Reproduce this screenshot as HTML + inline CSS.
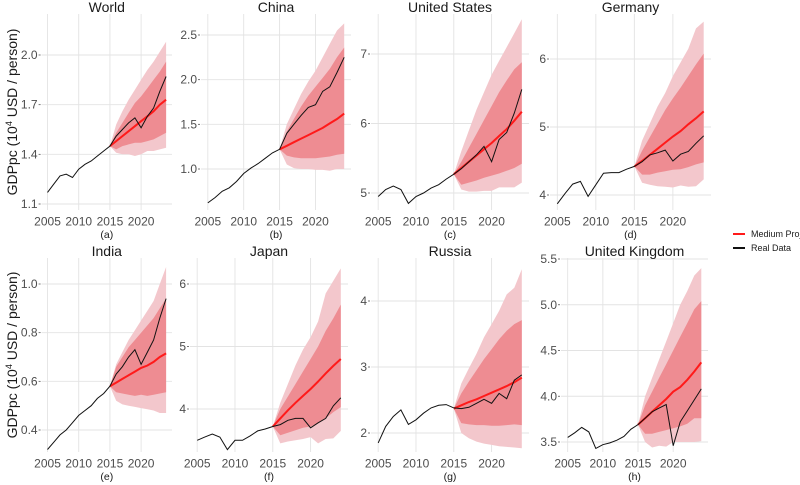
<!DOCTYPE html>
<html><head><meta charset="utf-8">
<style>
html,body{margin:0;padding:0;background:#fff;}
svg{display:block;font-family:"Liberation Sans",sans-serif;}
</style></head>
<body>
<svg id="chart" width="800" height="485" viewBox="0 0 800 485" xmlns="http://www.w3.org/2000/svg"></svg>
<script>
const years = [2005,2006,2007,2008,2009,2010,2011,2012,2013,2014,2015,2016,2017,2018,2019,2020,2021,2022,2023,2024];
const projYears = [2015,2016,2017,2018,2019,2020,2021,2022,2023,2024];
const xTicks = [2005,2010,2015,2020];
const panelNames = ["World","China","United States","Germany","India","Japan","Russia","United Kingdom"];
const panelLetters = ["(a)","(b)","(c)","(d)","(e)","(f)","(g)","(h)"];
const yTickLabels = [
  ["1.1","1.4","1.7","2.0"],
  ["1.0","1.5","2.0","2.5"],
  ["5","6","7"],
  ["4","5","6"],
  ["0.4","0.6","0.8","1.0"],
  ["4","5","6"],
  ["2","3","4"],
  ["3.5","4.0","4.5","5.0","5.5"]
];
const realWorld = [1.17,1.22,1.27,1.28,1.26,1.31,1.34,1.36,1.39,1.42,1.45,1.51,1.55,1.59,1.62,1.56,1.63,1.68,1.78,1.87];
const realChina = [0.62,0.68,0.75,0.79,0.86,0.95,1.01,1.06,1.12,1.18,1.22,1.40,1.50,1.60,1.69,1.72,1.87,1.92,2.08,2.25];
const realUS = [4.95,5.05,5.10,5.05,4.85,4.95,5.00,5.07,5.12,5.20,5.27,5.35,5.45,5.55,5.67,5.45,5.77,5.87,6.15,6.49];
const realGermany = [3.87,4.02,4.16,4.20,3.98,4.15,4.32,4.33,4.33,4.38,4.42,4.49,4.59,4.62,4.66,4.50,4.60,4.64,4.76,4.87];
const realIndia = [0.32,0.35,0.38,0.40,0.43,0.46,0.48,0.50,0.53,0.55,0.58,0.63,0.66,0.70,0.73,0.67,0.72,0.77,0.86,0.94];
const realJapan = [3.50,3.55,3.60,3.55,3.35,3.50,3.50,3.57,3.65,3.68,3.72,3.75,3.82,3.85,3.85,3.70,3.78,3.85,4.05,4.18];
const realRussia = [1.85,2.10,2.25,2.35,2.13,2.20,2.30,2.38,2.42,2.43,2.38,2.37,2.39,2.45,2.51,2.45,2.60,2.52,2.80,2.88];
const realUK = [3.55,3.60,3.66,3.61,3.43,3.47,3.49,3.52,3.56,3.64,3.69,3.76,3.83,3.87,3.91,3.46,3.72,3.84,3.96,4.08];
const medWorld = [1.45,1.48,1.51,1.54,1.57,1.60,1.63,1.66,1.70,1.73];
const medChina = [1.22,1.26,1.30,1.34,1.38,1.42,1.46,1.51,1.56,1.62];
const medUS = [5.27,5.36,5.45,5.54,5.63,5.72,5.82,5.92,6.04,6.17];
const medGermany = [4.42,4.50,4.59,4.68,4.77,4.86,4.94,5.04,5.13,5.23];
const medIndia = [0.58,0.595,0.61,0.625,0.64,0.655,0.665,0.68,0.70,0.715];
const medJapan = [3.72,3.85,3.98,4.10,4.21,4.32,4.44,4.57,4.69,4.80];
const medRussia = [2.37,2.42,2.47,2.51,2.56,2.61,2.66,2.71,2.77,2.84];
const medUK = [3.69,3.76,3.83,3.90,3.97,4.05,4.10,4.18,4.27,4.37];
const darkHiWorld = [1.45,1.53,1.59,1.65,1.71,1.75,1.80,1.85,1.90,1.96];
const darkLoWorld = [1.45,1.43,1.45,1.46,1.47,1.47,1.48,1.49,1.51,1.53];
const lightHiWorld = [1.45,1.58,1.66,1.73,1.79,1.85,1.91,1.96,2.02,2.08];
const lightLoWorld = [1.45,1.41,1.40,1.40,1.39,1.40,1.42,1.42,1.43,1.44];
const darkHiChina = [1.22,1.42,1.56,1.70,1.82,1.92,2.02,2.12,2.25,2.36];
const darkLoChina = [1.22,1.15,1.13,1.12,1.12,1.12,1.13,1.14,1.16,1.17];
const lightHiChina = [1.22,1.50,1.67,1.84,1.98,2.10,2.25,2.40,2.55,2.63];
const lightLoChina = [1.22,1.05,1.01,1.00,1.00,0.99,0.99,0.98,1.00,1.00];
const darkHiUS = [5.27,5.45,5.65,5.85,6.05,6.25,6.45,6.62,6.78,6.88];
const darkLoUS = [5.27,5.12,5.15,5.18,5.22,5.25,5.28,5.32,5.36,5.42];
const lightHiUS = [5.27,5.60,5.90,6.20,6.45,6.70,6.90,7.10,7.30,7.50];
const lightLoUS = [5.27,5.05,5.02,5.02,5.03,5.03,5.08,5.08,5.08,5.15];
const darkHiGermany = [4.42,4.65,4.85,5.05,5.25,5.42,5.58,5.75,5.92,6.08];
const darkLoGermany = [4.42,4.30,4.30,4.33,4.35,4.37,4.38,4.41,4.45,4.48];
const lightHiGermany = [4.42,4.80,5.05,5.30,5.50,5.75,5.95,6.15,6.45,6.55];
const lightLoGermany = [4.42,4.18,4.15,4.13,4.12,4.11,4.14,4.12,4.13,4.23];
const darkHiIndia = [0.58,0.66,0.70,0.74,0.77,0.80,0.83,0.86,0.90,0.94];
const darkLoIndia = [0.58,0.555,0.55,0.545,0.54,0.545,0.54,0.545,0.55,0.555];
const lightHiIndia = [0.58,0.67,0.72,0.77,0.81,0.85,0.89,0.93,1.00,1.07];
const lightLoIndia = [0.58,0.52,0.505,0.50,0.495,0.49,0.485,0.48,0.47,0.47];
const darkHiJapan = [3.72,4.00,4.20,4.40,4.60,4.80,5.00,5.25,5.45,5.67];
const darkLoJapan = [3.72,3.58,3.62,3.66,3.70,3.72,3.77,3.85,3.95,4.03];
const lightHiJapan = [3.72,4.10,4.40,4.70,4.95,5.15,5.40,5.85,6.05,6.25];
const lightLoJapan = [3.72,3.45,3.48,3.50,3.52,3.55,3.45,3.52,3.53,3.65];
const darkHiRussia = [2.37,2.60,2.78,2.95,3.12,3.27,3.42,3.55,3.65,3.71];
const darkLoRussia = [2.37,2.15,2.13,2.12,2.12,2.11,2.11,2.12,2.13,2.12];
const lightHiRussia = [2.37,2.75,2.98,3.20,3.45,3.65,3.85,4.10,4.20,4.48];
const lightLoRussia = [2.37,2.00,1.92,1.87,1.84,1.82,1.80,1.79,1.78,1.77];
const darkHiUK = [3.69,3.90,4.05,4.20,4.35,4.50,4.65,4.80,4.95,5.04];
const darkLoUK = [3.69,3.59,3.59,3.61,3.63,3.65,3.67,3.70,3.76,3.76];
const lightHiUK = [3.69,4.00,4.20,4.40,4.60,4.80,5.00,5.15,5.32,5.40];
const lightLoUK = [3.69,3.50,3.44,3.46,3.45,3.50,3.50,3.50,3.50,3.51];

const realSeries = [realWorld,realChina,realUS,realGermany,realIndia,realJapan,realRussia,realUK];
const medSeries = [medWorld,medChina,medUS,medGermany,medIndia,medJapan,medRussia,medUK];
const darkHi = [darkHiWorld,darkHiChina,darkHiUS,darkHiGermany,darkHiIndia,darkHiJapan,darkHiRussia,darkHiUK];
const darkLo = [darkLoWorld,darkLoChina,darkLoUS,darkLoGermany,darkLoIndia,darkLoJapan,darkLoRussia,darkLoUK];
const lightHi = [lightHiWorld,lightHiChina,lightHiUS,lightHiGermany,lightHiIndia,lightHiJapan,lightHiRussia,lightHiUK];
const lightLo = [lightLoWorld,lightLoChina,lightLoUS,lightLoGermany,lightLoIndia,lightLoJapan,lightLoRussia,lightLoUK];

const layout = [
  {l:41.6,r:172,top:14,bot:210,a:1.1,ya:204,b:2.0,yb:55},
  {l:201,r:351,top:14,bot:210,a:1.0,ya:169,b:2.5,yb:35},
  {l:371,r:529,top:14,bot:210,a:5,ya:193,b:7,yb:54},
  {l:550,r:711,top:14,bot:210,a:4,ya:195,b:6,yb:59},
  {l:41.6,r:172,top:258,bot:452,a:0.4,ya:430,b:1.0,yb:284},
  {l:190,r:348,top:258,bot:452,a:4,ya:409,b:6,yb:284},
  {l:371,r:529,top:258,bot:452,a:2,ya:433,b:4,yb:301},
  {l:561,r:708,top:258,bot:452,a:3.5,ya:442,b:5.5,yb:259}
];
const X0 = 2004.05, X1 = 2024.95;
const NS = "http://www.w3.org/2000/svg";
const svg = document.getElementById('chart');
function mk(tag, attrs, parent){
  const e = document.createElementNS(NS, tag);
  for (const k in attrs) e.setAttribute(k, attrs[k]);
  (parent||svg).appendChild(e);
  return e;
}
panelNames.forEach((name, i) => {
  const L = layout[i];
  const xs = v => L.l + (v - X0) / (X1 - X0) * (L.r - L.l);
  const ys = v => L.ya + (v - L.a) / (L.b - L.a) * (L.yb - L.ya);
  const g = mk('g', {});
  
  
  xTicks.forEach(t => {
    const ln = mk('line', {x1:xs(t),x2:xs(t),y1:L.top,y2:L.bot,stroke:'#e3e3e3','stroke-width':0.9}, g);
    
    
    const tx = mk('text', {x:xs(t),y:L.bot+15.5,'text-anchor':'middle','font-size':12,fill:'#4d4d4d'}, g);
    tx.textContent = t;
    
    
  });
  yTickLabels[i].forEach(lab => {
    const v = parseFloat(lab), y = ys(v);
    const ln = mk('line', {x1:L.l,x2:L.r,y1:y,y2:y,stroke:'#e3e3e3','stroke-width':0.9}, g);
    
    
    const tk = mk('line', {x1:L.l-3,x2:L.l-1,y1:y,y2:y,stroke:'#555','stroke-width':0.8}, g);
    
    
    const tx = mk('text', {x:L.l-4,y:y+4,'text-anchor':'end','font-size':12,fill:'#4d4d4d'}, g);
    tx.textContent = lab;
    
    
  });
  function band(hi, lo, fill, nm){
    let d = '';
    projYears.forEach((yr, k) => { d += (k ? 'L' : 'M') + xs(yr).toFixed(1) + ' ' + ys(hi[k]).toFixed(1); });
    for (let k = projYears.length - 1; k >= 0; k--) d += 'L' + xs(projYears[k]).toFixed(1) + ' ' + ys(lo[k]).toFixed(1);
    const p = mk('path', {d:d+'Z', fill:fill}, g);
    
    
  }
  band(lightHi[i], lightLo[i], '#f3c7cc', 'outer-uncertainty-band');
  band(darkHi[i], darkLo[i], '#ee8c92', 'inner-uncertainty-band');
  const med = mk('polyline', {points: projYears.map((yr,k)=>xs(yr).toFixed(1)+','+ys(medSeries[i][k]).toFixed(1)).join(' '), fill:'none', stroke:'#ff1a1a','stroke-width':2}, g);
  
  
  const real = mk('polyline', {points: years.map((yr,k)=>xs(yr).toFixed(1)+','+ys(realSeries[i][k]).toFixed(1)).join(' '), fill:'none', stroke:'#111','stroke-width':1}, g);
  
  
  const cx = (L.l + L.r) / 2;
  const title = mk('text', {x:cx,y:L.top-2,'text-anchor':'middle','font-size':14,fill:'#1a1a1a'}, g);
  title.textContent = name;
  
  
  const sub = mk('text', {x:cx,y:L.bot+28,'text-anchor':'middle','font-size':10.5,fill:'#1a1a1a'}, g);
  sub.textContent = panelLetters[i];
  
  
});
[112, 355].forEach(cy => {
  const t = mk('text', {x:0,y:0,transform:'translate(17,'+cy+') rotate(-90)','text-anchor':'middle','font-size':14,fill:'#1a1a1a'});
  
  
  const a = mk('tspan', {}, t); a.textContent = 'GDPpc (10';
  const s = mk('tspan', {'font-size':9,dy:-5}, t); s.textContent = '4';
  const b = mk('tspan', {dy:5}, t); b.textContent = ' USD / person)';
});
const leg = mk('g', {});


[['Medium Proj','#ff1a1a',234],['Real Data','#111',248]].forEach(([lab,col,y]) => {
  const e = mk('g', {}, leg);
  
  
  mk('line', {x1:733,x2:745,y1:y,y2:y,stroke:col,'stroke-width':2}, e);
  const t = mk('text', {x:751,y:y+3,'font-size':9,fill:'#1a1a1a'}, e);
  t.textContent = lab;
});
</script>
</body></html>
